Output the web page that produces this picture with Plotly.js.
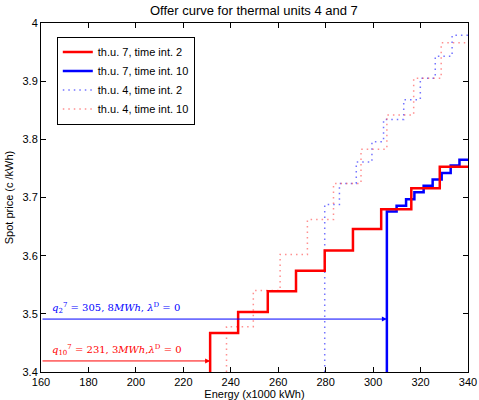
<!DOCTYPE html>
<html>
<head>
<meta charset="utf-8">
<script src="https://cdn.plot.ly/plotly-3.0.1.min.js"></script>
<style>html,body{margin:0;padding:0;background:#fff;}#chart{width:479px;height:400px;}</style>
</head>
<body>
<div id="chart"></div>
<script>
// Unit 7, time interval 2 (red solid): step breakpoints (energy) and price levels
const u7t2Energy = [231.3, 231.3, 243.1, 255.6, 267.5, 279.6, 291.5, 303.4, 316.1, 328.1, 340];
const u7t2Price  = [3.40, 3.467, 3.503, 3.539, 3.574, 3.609, 3.646, 3.680, 3.716, 3.753, 3.753];
// Unit 7, time interval 10 (blue solid)
const u7t10Energy = [305.8, 305.8, 309.9, 313.9, 317.4, 321.3, 325.1, 328.9, 332.7, 336.4, 340];
const u7t10Price  = [3.40, 3.676, 3.686, 3.697, 3.709, 3.720, 3.731, 3.742, 3.755, 3.765, 3.765];
// Unit 4, time interval 2 (blue dotted)
const u4t2Energy = [279.6, 279.6, 285.8, 292.9, 299.5, 304.4, 312.9, 319.9, 326.2, 333.3, 340];
const u4t2Price  = [3.40, 3.688, 3.724, 3.761, 3.796, 3.834, 3.868, 3.905, 3.943, 3.979, 3.979];
// Unit 4, time interval 10 (red dotted)
const u4t10Energy = [238.2, 238.2, 249.5, 260.8, 272.3, 283.3, 294.9, 305.8, 317.1, 328.7, 340];
const u4t10Price  = [3.40, 3.478, 3.540, 3.602, 3.662, 3.724, 3.783, 3.842, 3.905, 3.966, 3.966];

const seriesNames = ['th.u. 7, time int. 2', 'th.u. 7, time int. 10', 'th.u. 4, time int. 2', 'th.u. 4, time int. 10'];

// Annotated dispatch quantities
const qEnergy = [305.8, 231.3];
const qPrice  = [3.491, 3.419];
const qLabels = [
  '<i>q</i><sub>2</sub><sup>7</sup> = 305, 8<i>MWh</i>, <i>λ</i><sup>D</sup> = 0',
  '<i>q</i><sub>10</sub><sup>7</sup> = 231, 3<i>MWh</i>,<i>λ</i><sup>D</sup> = 0'
];
const qColors = ['#0000ff', '#ff0000'];

const xTicks = [160, 180, 200, 220, 240, 260, 280, 300, 320, 340];
const yTicks = [3.4, 3.5, 3.6, 3.7, 3.8, 3.9, 4];

const traces = [
  {x: u4t2Energy, y: u4t2Price, name: seriesNames[2], mode: 'lines', legendrank: 3,
   line: {shape: 'hv', color: 'rgba(70,70,255,0.75)', width: 1.5, dash: '1.5px,4px'}},
  {x: u4t10Energy, y: u4t10Price, name: seriesNames[3], mode: 'lines', legendrank: 4,
   line: {shape: 'hv', color: 'rgba(255,70,70,0.6)', width: 1.5, dash: '1.5px,4px'}},
  {x: u7t10Energy, y: u7t10Price, name: seriesNames[1], mode: 'lines', legendrank: 2,
   line: {shape: 'hv', color: '#0000ff', width: 2.5}},
  {x: u7t2Energy, y: u7t2Price, name: seriesNames[0], mode: 'lines', legendrank: 1,
   line: {shape: 'hv', color: '#ff0000', width: 2.5}}
];

const annotations = [];
for (let i = 0; i < qEnergy.length; i++) {
  annotations.push({
    x: qEnergy[i], y: qPrice[i], xref: 'x', yref: 'y',
    ax: xTicks[0], ay: qPrice[i], axref: 'x', ayref: 'y',
    text: '', showarrow: true, arrowhead: 2, arrowsize: 1, arrowwidth: 1,
    arrowcolor: qColors[i]
  });
  annotations.push({
    x: xTicks[0] + 4, y: qPrice[i] + 0.019, xref: 'x', yref: 'y',
    xanchor: 'left', yanchor: 'middle', showarrow: false,
    text: qLabels[i], font: {family: 'DejaVu Serif, serif', size: 10, color: qColors[i]}
  });
}

const axisCommon = {
  showline: true, linecolor: '#000', linewidth: 1, mirror: 'ticks',
  ticks: 'inside', ticklen: 5, tickcolor: '#000', showgrid: false, zeroline: false,
  tickfont: {family: 'Liberation Sans, Arial, sans-serif', size: 11, color: '#000'}
};

const layout = {
  width: 479, height: 400,
  margin: {l: 41, r: 11, t: 23, b: 28},
  paper_bgcolor: '#fff', plot_bgcolor: '#fff',
  font: {family: 'Liberation Sans, Arial, sans-serif', size: 11, color: '#000'},
  title: {text: 'Offer curve for thermal units 4 and 7', x: 0.53, xanchor: 'center', y: 0.985, yanchor: 'top',
          font: {family: 'Liberation Sans, Arial, sans-serif', size: 13, color: '#000'}},
  xaxis: Object.assign({}, axisCommon, {
    range: [160, 340], tickvals: xTicks, ticktext: xTicks.map(String),
    title: {text: 'Energy (x1000 kWh)', standoff: 2, font: {size: 11}}
  }),
  yaxis: Object.assign({}, axisCommon, {
    range: [3.4, 4], tickvals: yTicks, ticktext: yTicks.map(v => v === 4 ? '4' : v.toFixed(1)),
    title: {text: 'Spot price (c /kWh)', standoff: 6, font: {size: 11}}
  }),
  showlegend: true,
  legend: {x: 0.037, y: 0.961, xanchor: 'left', yanchor: 'top', bgcolor: '#fff',
           bordercolor: '#000', borderwidth: 1, tracegroupgap: 0,
           font: {family: 'Liberation Sans, Arial, sans-serif', size: 11, color: '#000'}},
  annotations: annotations
};

Plotly.newPlot('chart', traces, layout, {displayModeBar: false, staticPlot: true});
</script>
</body>
</html>
